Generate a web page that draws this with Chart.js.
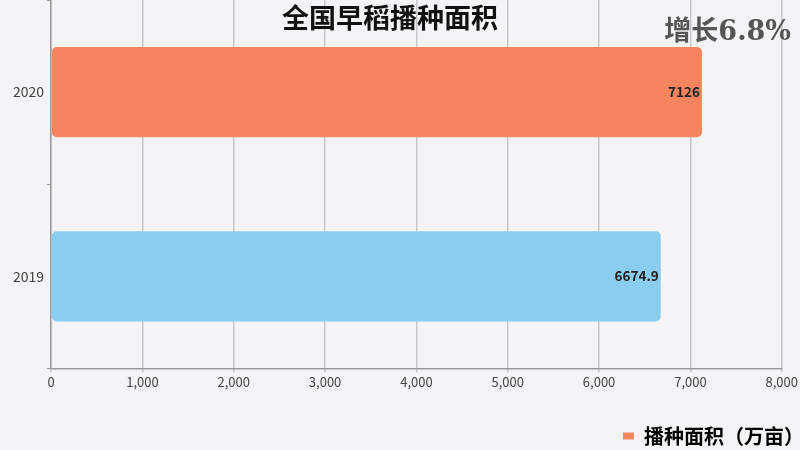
<!DOCTYPE html>
<html>
<head>
<meta charset="utf-8">
<title>全国早稻播种面积</title>
<style>
html, body { margin: 0; padding: 0; background: #f4f4f6; }
#wrap { width: 800px; height: 450px; }
</style>
<script src="https://cdn.jsdelivr.net/npm/chart.js@4"></script>
</head>
<body>
<div id="wrap"><canvas id="chartDiv"></canvas></div>

<script>
// data
var years  = ['2020', '2019'];
var areas  = [7126, 6674.9];
var labels = ['7126', '6674.9'];
var xTicks = [0, 1000, 2000, 3000, 4000, 5000, 6000, 7000, 8000];
var seriesName = '播种面积（万亩）';
var titleText  = '全国早稻播种面积';
var noteText   = '增长6.8%';

var barColors = ['#f5845f', '#89cdf0'];
var cjk = '"Noto Sans CJK SC", "Noto Sans", sans-serif';

// title, note and value labels
var textPlugin = {
  id: 'texts',
  afterLayout: function(chart) {
    // nudge the legend to the bottom-right corner
    var lg = chart.legend;
    lg.left += 14; lg.right += 14;
    lg.top += 6; lg.bottom += 6;
  },
  afterDatasetsDraw: function(chart) {
    var ctx = chart.ctx;
    var meta = chart.getDatasetMeta(0);
    ctx.save();
    ctx.font = 'bold 13.5px ' + cjk;
    ctx.fillStyle = '#222';
    ctx.textAlign = 'right';
    ctx.textBaseline = 'middle';
    meta.data.forEach(function(bar, i) {
      ctx.fillText(labels[i], bar.x - 2, bar.y);
    });
    ctx.restore();
  },
  afterDraw: function(chart) {
    var ctx = chart.ctx;
    ctx.save();
    ctx.font = 'bold 27px ' + cjk;
    ctx.fillStyle = '#111';
    ctx.textAlign = 'center';
    ctx.textBaseline = 'middle';
    ctx.fillText(titleText, 390, 18);

    ctx.font = 'bold 27px "DejaVu Serif", "Noto Sans CJK SC", serif';
    ctx.fillStyle = '#555';
    ctx.textAlign = 'right';
    ctx.fillText(noteText, 791, 33);
    ctx.restore();
  }
};

new Chart('chartDiv', {
  type: 'bar',
  data: {
    labels: years,
    datasets: [{
      label: seriesName,
      data: areas,
      backgroundColor: barColors,
      borderRadius: 5,
      borderSkipped: false,
      categoryPercentage: 1,
      barPercentage: 0.49
    }]
  },
  options: {
    indexAxis: 'y',
    responsive: true,
    maintainAspectRatio: false,
    animation: false,
    layout: { padding: { top: 0, right: 4, left: 10, bottom: 0 } },
    scales: {
      x: {
        min: 0,
        max: 8000,
        afterBuildTicks: function(axis) {
          axis.ticks = xTicks.map(function(v) { return { value: v }; });
        },
        afterFit: function(axis) { axis.height += 22; },
        ticks: {
          color: '#444',
          font: { family: cjk, size: 13 },
          padding: 2,
          callback: function(v) { return v.toLocaleString('en-US'); }
        },
        grid: { color: '#c8c8cc', lineWidth: 1.5, tickLength: 4 },
        border: { color: '#999', width: 1.5 }
      },
      y: {
        afterFit: function(axis) { axis.paddingTop = 0; axis.paddingBottom = 0; },
        ticks: {
          color: '#444',
          font: { family: cjk, size: 14 },
          padding: 3
        },
        grid: { drawOnChartArea: false, tickLength: 4, color: '#999' },
        border: { color: '#999', width: 1.5 }
      }
    },
    plugins: {
      legend: {
        position: 'bottom',
        align: 'end',
        labels: {
          color: '#222',
          boxWidth: 11,
          boxHeight: 7,
          font: { family: cjk, size: 20, weight: 'bold' },
          padding: 6,
          generateLabels: function(chart) {
            return [{
              text: seriesName,
              fillStyle: barColors[0],
              strokeStyle: barColors[0],
              lineWidth: 0,
              datasetIndex: 0
            }];
          }
        }
      },
      tooltip: { enabled: false }
    }
  },
  plugins: [textPlugin]
});
</script>
</body>
</html>
